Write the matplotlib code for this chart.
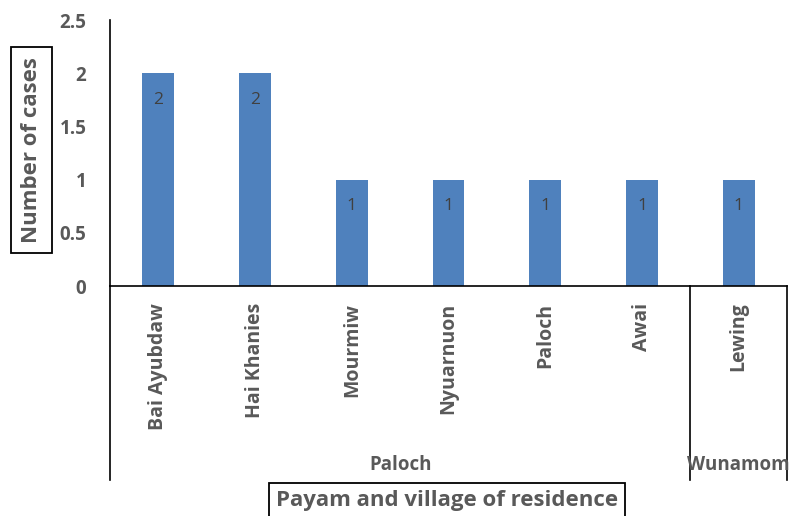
import matplotlib.pyplot as plt
from matplotlib.transforms import blended_transform_factory

villages = ["Bai Ayubdaw", "Hai Khanies", "Mourmiw", "Nyuarnuon", "Paloch", "Awai", "Lewing"]
cases = [2, 2, 1, 1, 1, 1, 1]
payams = ["Paloch", "Wunamom"]
payam_sizes = [6, 1]
yticks = [0, 0.5, 1, 1.5, 2, 2.5]

plt.rcParams["font.family"] = ["Open Sans", "DejaVu Sans"]
grey = "#595959"
bar_color = "#4F81BD"

fig = plt.figure(figsize=(7.9, 5.16), dpi=100)
ax = fig.add_axes([110 / 790, 1 - 286 / 516, 677 / 790, 266 / 516])

x = list(range(len(villages)))
bars = ax.bar(x, cases, width=0.33, color=bar_color, zorder=2)
for xi, v in zip(x, cases):
    ax.text(xi, v - 0.25, str(v), ha="center", va="center", fontsize=12.5, color="#404040")

ax.set_xlim(-0.5, len(villages) - 0.5)
ax.set_ylim(0, 2.5)
ax.set_yticks(yticks)
ax.set_yticklabels([f"{t:g}" for t in yticks], fontsize=13.5, fontweight="bold", color=grey)
ax.set_xticks(x)
ax.set_xticklabels(villages, rotation=90, fontsize=14, fontweight="bold", color=grey, va="top")
ax.tick_params(axis="x", length=0, pad=12)
ax.tick_params(axis="y", length=0, pad=17)

for s in ["top", "right"]:
    ax.spines[s].set_visible(False)
ax.spines["left"].set_color("black")
ax.spines["bottom"].set_color("black")
ax.spines["left"].set_linewidth(1.2)
ax.spines["bottom"].set_linewidth(1.2)

# grouped category frame below the axis
tr = blended_transform_factory(ax.transData, ax.transAxes)
y_bottom = -194 / 266
edges = [-0.5]
for n in payam_sizes:
    edges.append(edges[-1] + n)
ax.plot([-0.5, -0.5], [0, y_bottom], color="black", lw=1.2, transform=tr, clip_on=False)
for e in edges[1:]:
    ax.plot([e, e], [0, y_bottom], color="black", lw=1.2, transform=tr, clip_on=False)
for name, a, b in zip(payams, edges[:-1], edges[1:]):
    ax.text((a + b) / 2, -179 / 266, name, transform=tr,
            ha="center", va="center", fontsize=13.5, fontweight="bold", color=grey)

box = dict(boxstyle="square,pad=0.3", facecolor="white", edgecolor="black", linewidth=1.3)
ybox = dict(boxstyle="square,pad=0.45", facecolor="white", edgecolor="black", linewidth=1.3)
ax.set_ylabel("Number of cases", fontsize=16, fontweight="bold", color=grey, bbox=ybox)
ax.yaxis.set_label_coords(-0.1, 0.51)
ax.set_xlabel("Payam and village of residence", fontsize=16, fontweight="bold", color=grey,
              bbox=box, va="center")
ax.xaxis.set_label_coords(0.498, -0.805)

fig.savefig("out.png", dpi=100)
